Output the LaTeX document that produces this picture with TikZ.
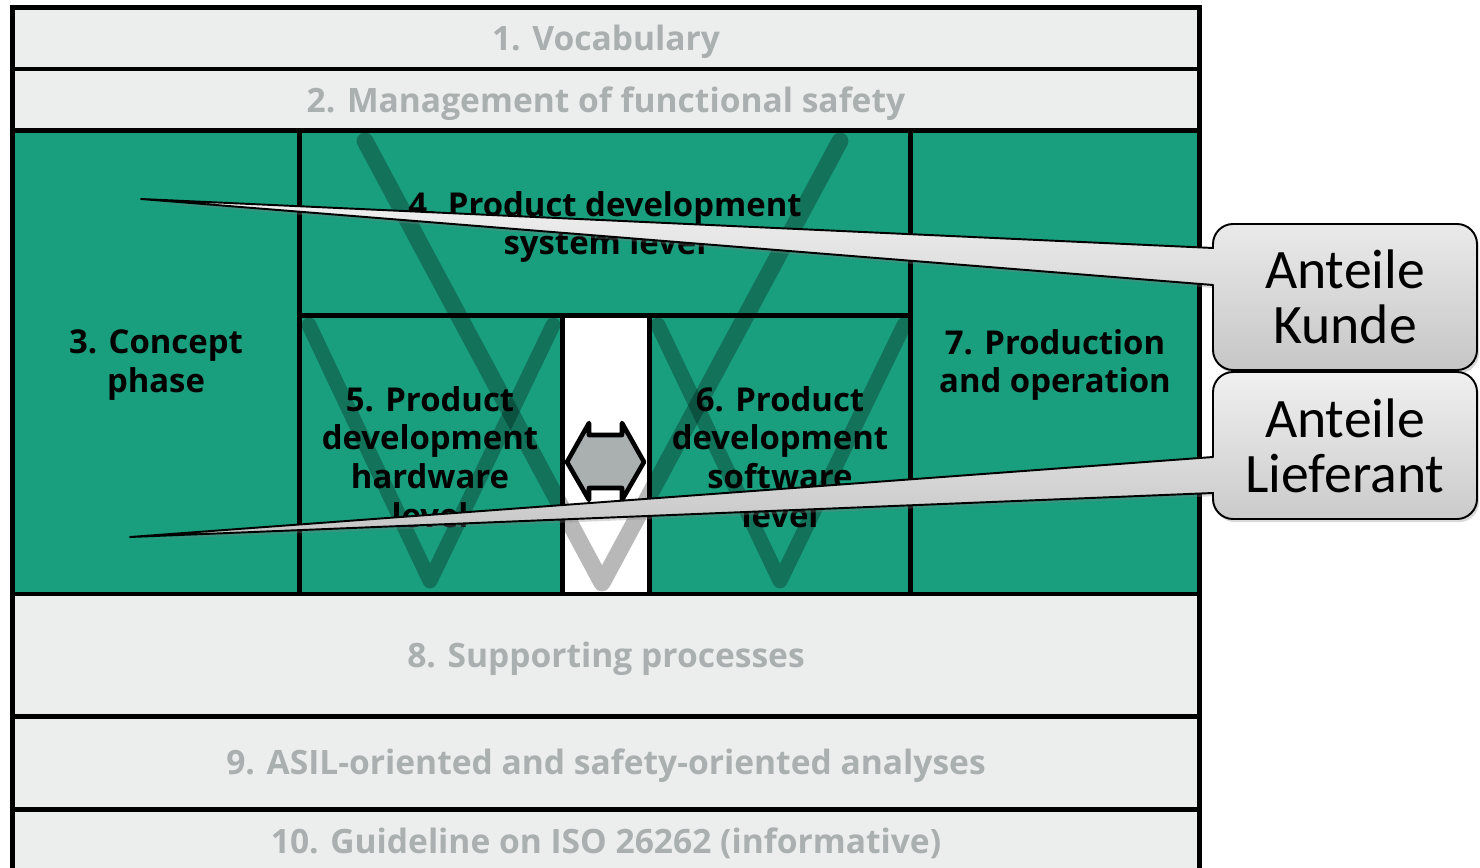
\documentclass[tikz,border=0pt]{standalone}
\usepackage{fontspec}
\setmainfont{Open Sans}
\newfontfamily\calloutfont{Carlito}
\usetikzlibrary{shadows}
\definecolor{phasegreen}{RGB}{25,158,126}
\definecolor{cellgray}{RGB}{236,238,237}
\definecolor{labelgray}{RGB}{170,176,175}
\definecolor{arrowgray}{RGB}{170,176,176}
\definecolor{calloutlight}{RGB}{240,240,240}
\definecolor{calloutdark}{RGB}{198,198,198}

\begin{document}
\begin{tikzpicture}[x=0.02cm,y=-0.02cm,
  cell/.style={draw=black,line width=2.8pt},
  graycell/.style={cell,fill=cellgray},
  greencell/.style={cell,fill=phasegreen},
  graylabel/.style={font=\bfseries\fontsize{19.1}{22}\selectfont,text=labelgray,inner sep=0pt},
  phaselabel/.style={font=\bfseries\fontsize{18.7}{22.1}\selectfont,align=center,text=black,inner sep=0pt},
  vstroke/.style={draw=black,draw opacity=0.28,line width=9.6pt,line cap=round,line join=round},
  smallv/.style={vstroke,line width=8.5pt},
  callout/.style={draw=black,line width=1.1pt,line join=round,top color=calloutlight,bottom color=calloutdark,
    drop shadow={opacity=0.3,shadow xshift=1.2pt,shadow yshift=-1.8pt}},
  calloutlabel/.style={font=\calloutfont\fontsize{31.7}{31.7}\selectfont,align=center,inner sep=0pt}]

\useasboundingbox (0,0) rectangle (1480,868);
\clip (0,0) rectangle (1480,868);

% part rows and phase cells
\draw[graycell] (12.5,7.5) rectangle (1199.5,69);
\draw[graycell] (12.5,69) rectangle (1199.5,130.5);
\draw[greencell] (12.5,130.5) rectangle (299.5,594);
\draw[greencell] (299.5,130.5) rectangle (910.5,315.5);
\draw[greencell] (299.5,315.5) rectangle (562.5,594);
\draw[cell,fill=white] (562.5,315.5) rectangle (649.5,594);
\draw[greencell] (649.5,315.5) rectangle (910.5,594);
\draw[greencell] (910.5,130.5) rectangle (1199.5,594);
\draw[graycell] (12.5,594) rectangle (1199.5,716.5);
\draw[graycell] (12.5,716.5) rectangle (1199.5,809.5);
\draw[graycell] (12.5,809.5) rectangle (1199.5,900);

% V-model strokes
\draw[vstroke] (365,141) -- (602,583) -- (840,141);
\draw[smallv] (309,325) -- (430,581) -- (553,325);
\draw[smallv] (658,325) -- (780,581) -- (904,325);

% hardware/software interface arrow
\draw[line width=2.6pt,line join=round,fill=arrowgray]
  (567,462) -- (589,423) -- (589,435) -- (622,435) -- (622,423) -- (644,462)
  -- (622,500) -- (622,488) -- (589,488) -- (589,500) -- cycle;

% labels
\node[graylabel] (voc) at (606,42) {1. Vocabulary};
\node[graylabel] (mgmt) at (606,104) {2. Management of functional safety};
\node[graylabel] (supp) at (606,659) {8. Supporting processes};
\node[graylabel] (asil) at (606,766) {9. ASIL-oriented and safety-oriented analyses};
\node[graylabel] (guide) at (606,843) {10. Guideline on ISO 26262 (informative)};
\node[phaselabel] (concept) at (156,365) {3. Concept\\phase};
\node[phaselabel] (system) at (605,227) {4. Product development\\system level};
\node[phaselabel] (hw) at (430,457) {5. Product\\development\\hardware\\level};
\node[phaselabel] (sw) at (780,457) {6. Product\\development\\software\\level};
\node[phaselabel] (prod) at (1055,365) {7. Production\\and operation};

% callouts
\coordinate (kundeTip) at (141,199);
\coordinate (liefTip) at (130,537);
\draw[callout] (1213,285) -- (1213,350) .. controls (1213,361) and (1222,370) .. (1233,370)
  -- (1457,370) .. controls (1468,370) and (1477,361) .. (1477,350)
  -- (1477,244) .. controls (1477,233) and (1468,224) .. (1457,224)
  -- (1233,224) .. controls (1222,224) and (1213,233) .. (1213,244)
  -- (1213,248) -- (kundeTip) -- cycle;
\draw[callout] (1213,493) -- (1213,499) .. controls (1213,510) and (1222,519) .. (1233,519)
  -- (1457,519) .. controls (1468,519) and (1477,510) .. (1477,499)
  -- (1477,392) .. controls (1477,381) and (1468,372) .. (1457,372)
  -- (1233,372) .. controls (1222,372) and (1213,381) .. (1213,392)
  -- (1213,457) -- (liefTip) -- cycle;
\node[calloutlabel] (kunde) at (1345,297) {Anteile\\Kunde};
\node[calloutlabel] (lieferant) at (1345,446) {Anteile\\Lieferant};
\end{tikzpicture}
\end{document}
